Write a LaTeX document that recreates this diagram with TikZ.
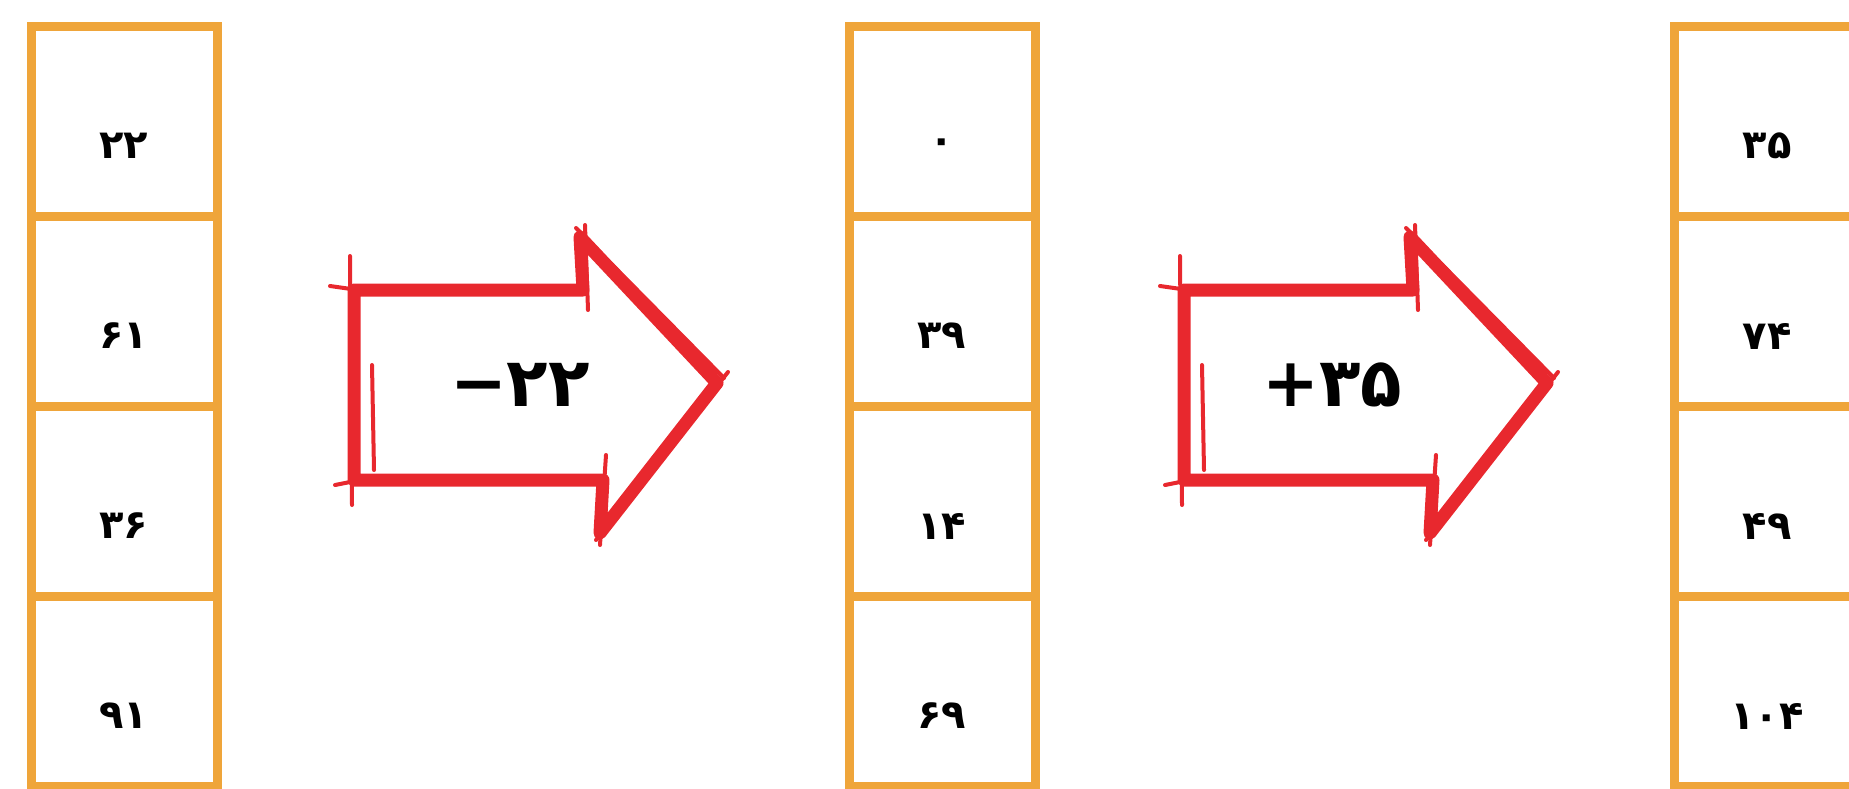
\documentclass[tikz,border=0pt]{standalone}
\usepackage{fontspec}
\usetikzlibrary{positioning}
\newfontfamily\farsi[Script=Arabic]{DejaVu Sans}
\definecolor{cellorange}{HTML}{EFA53A}
\definecolor{arrowred}{HTML}{E8282E}

\begin{document}
\begin{tikzpicture}[x=1pt, y=-1pt, node distance=0pt,
    cell/.style={draw=cellorange, line width=9pt, minimum width=186pt,
      minimum height=190pt, inner sep=0pt, outer sep=0pt},
    num/.style={font=\farsi\bfseries\fontsize{40}{48}\selectfont, yshift=-25pt},
    opname/.style={font=\farsi\bfseries\fontsize{68}{76}\selectfont},
    redline/.style={draw=arrowred, line width=13pt, line join=round},
    redtrace/.style={draw=arrowred, line width=4pt, line cap=round}]
  \useasboundingbox (0,0) rectangle (1849,788);
  % number columns
  \foreach \col/\cx/\ra/\rb/\rc/\rd in
      {a/124/۲۲/۶۱/۳۶/۹۱, b/942/۰/۳۹/۱۴/۶۹, c/1767/۳۵/۷۴/۴۹/۱۰۴} {
    \node[cell, label={[num]center:\ra}] (\col1) at (\cx,121) {};
    \node[cell, below=of \col1, label={[num]center:\rb}] (\col2) {};
    \node[cell, below=of \col2, label={[num]center:\rc}] (\col3) {};
    \node[cell, below=of \col3, label={[num]center:\rd}] (\col4) {};
  }
  % operation arrows
  \node[opname] (minus) at (520,385) {\hbox{−}\hbox{۲۲}};
  \node[opname] (plus) at (1332,385) {\hbox{+}\hbox{۳۵}};
  \foreach \sx in {0,830} {
    \begin{scope}[xshift=\sx]
      \draw[redline] (354,290) -- (583,290) -- (580,237) -- (717,383)
        -- (600,533) -- (603,480) -- (354,480) -- cycle;
      \draw[redtrace] (350,256) -- (352,505);
      \draw[redtrace] (330,286) -- (372,292);
      \draw[redtrace] (335,485) -- (370,478);
      \draw[redtrace] (576,228) -- (724,378);
      \draw[redtrace] (728,372) -- (596,540);
      \draw[redtrace] (372,365) -- (374,470);
      \draw[redtrace] (585,225) -- (588,310);
      \draw[redtrace] (606,455) -- (600,545);
    \end{scope}
  }
\end{tikzpicture}
\end{document}
